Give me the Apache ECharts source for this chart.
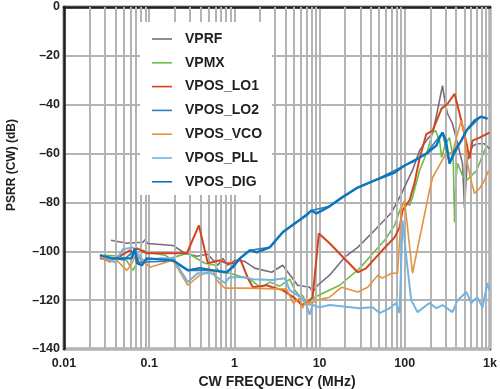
<!DOCTYPE html>
<html><head><meta charset="utf-8">
<script src="https://cdn.jsdelivr.net/npm/echarts@6/dist/echarts.min.js"></script>
<style>html,body{margin:0;padding:0;background:#fff}#c{width:500px;height:389px}</style>
</head><body><div id="c"></div>
<script>
const seriesNames = ['VPRF','VPMX','VPOS_LO1','VPOS_LO2','VPOS_VCO','VPOS_PLL','VPOS_DIG'];
const xTickLabels = ['0.01','0.1','1','10','100','1k'];
const minorGridFreqs = [0.02,0.03,0.04,0.05,0.06,0.07,0.08,0.09,0.2,0.3,0.4,0.5,0.6,0.7,0.8,0.9,2,3,4,5,6,7,8,9,20,30,40,50,60,70,80,90,200,300,400,500,600,700,800,900];

const vprf = [[0.0356,-95.5],[0.0548,-96.7],[0.0843,-96.3],[0.0891,-95.3],[0.0966,-96.8],[0.19,-97.6],[0.262,-100.8],[0.362,-102],[0.488,-101.2],[0.639,-105.7],[0.731,-102.9],[0.837,-105.7],[1.01,-103.7],[1.32,-104.1],[1.73,-106.9],[2.74,-108.6],[3.69,-105.7],[5.53,-113.9],[7.65,-114.7],[8.29,-116.7],[9.5,-113.9],[13.1,-109.8],[19.7,-102.4],[28,-98.4],[44.3,-91.4],[70,-84.1],[91.8,-76.3],[108,-71],[123,-66.9],[149,-58.8],[185,-54],[212,-51.8],[243,-42],[277,-32.2],[300,-40],[318,-43.7],[363,-47.8],[416,-55.9],[476,-64.1],[502,-82.4],[540,-63],[620,-57],[700,-56],[860,-56],[986,-58]];
const vpmx = [[0.0303,-101.6],[0.0454,-102],[0.0548,-104],[0.0644,-107.8],[0.0778,-102.4],[0.0843,-99.6],[0.0966,-100.4],[0.153,-101.6],[0.175,-102.9],[0.284,-100.8],[0.45,-104.9],[0.589,-105.7],[0.674,-108.6],[0.883,-109],[1.16,-110.2],[1.52,-111.4],[1.99,-114.7],[2.27,-113.9],[2.6,-112.6],[3.41,-114.3],[4.46,-111.4],[5.11,-115.9],[5.84,-118.4],[6.3,-118],[7.25,-122],[8.76,-118.8],[17.2,-113.9],[29.5,-107],[44.3,-100],[58,-95.5],[75.9,-89.4],[91.8,-81.2],[108,-80.4],[114,-81.2],[123,-78],[149,-66.9],[185,-58.8],[212,-51.4],[230,-50.6],[256,-54.7],[270,-61.6],[300,-56],[335,-53.5],[370,-62],[384,-88.2],[400,-70],[416,-64],[476,-69],[530,-71],[695,-67],[861,-58.8],[935,-56.7]];
const lo1 = [[0.0264,-102.9],[0.0356,-103.7],[0.04,-103],[0.0594,-99.6],[0.0679,-100.8],[0.0718,-98.8],[0.094,-100.8],[0.277,-100.8],[0.383,-89.4],[0.488,-104.9],[0.674,-103.7],[0.81,-104.9],[1.01,-104.9],[1.16,-102.9],[1.44,-111],[1.65,-114.7],[2.4,-113.9],[2.8,-114.7],[3.69,-115.9],[5.11,-119.2],[6.2,-122],[7.65,-120],[8.29,-118.8],[9.8,-92.7],[13.1,-96.7],[28,-108.6],[35,-107],[54.5,-99.6],[75.9,-94.3],[86.9,-90.2],[94,-83.3],[114,-79],[130,-72],[149,-62],[179,-52],[212,-50.6],[270,-41.6],[318,-39.6],[384,-35.5],[460,-46.5],[530,-55.9],[575,-62],[623,-54.7],[753,-53.5],[986,-51.4]];
const lo2 = [[0.0264,-102],[0.05,-103.5],[0.0679,-99.5],[0.075,-104.5],[0.19,-104],[0.284,-107.8],[0.56,-107.8],[0.81,-108.6],[1.16,-102.9],[1.52,-99.6],[2.6,-98.4],[3.69,-92.2],[5.3,-88.2],[8.0,-83.3],[13.1,-81.6],[28,-73.9],[44.3,-71],[99.5,-64.9],[179,-60],[277,-51.4],[335,-64.1],[530,-50.6],[780,-44.9],[935,-45.7]];
const vco = [[0.0264,-102.4],[0.0346,-104.5],[0.0396,-103],[0.0548,-107.8],[0.0626,-104.9],[0.07,-101.5],[0.102,-106.5],[0.19,-103.7],[0.284,-113.9],[0.393,-109.8],[0.56,-107.8],[0.62,-111.8],[0.77,-115.1],[1.32,-115.1],[4.1,-115.5],[4.9,-121.2],[5.84,-119.2],[6.3,-123.3],[7.0,-120],[7.65,-122],[9.2,-120],[13.1,-118.8],[18.2,-114.7],[28,-116.7],[36.7,-114.7],[48.3,-109.8],[54.5,-111],[70,-109],[82.4,-109],[91.8,-82],[99.5,-79.2],[123,-109],[195,-75],[212,-69.8],[304,-60],[363,-59.6],[416,-51.8],[460,-46.5],[502,-51.8],[545,-64],[600,-71],[658,-76.3],[753,-74.3],[861,-71],[960,-67]];
const pll = [[0.0264,-101.6],[0.0396,-104.5],[0.049,-99.2],[0.0644,-98.4],[0.0843,-103.7],[0.133,-102.9],[0.19,-102.9],[0.284,-112.6],[0.37,-109],[0.54,-109],[0.77,-113],[0.883,-110.6],[1.32,-110.6],[1.65,-111.4],[2.8,-111.8],[3.9,-111],[4.46,-115.9],[6.2,-119.2],[7.0,-122],[7.65,-126],[8.29,-122],[10,-122.9],[13.1,-122],[29.5,-123.3],[41.8,-122.9],[50.7,-125.3],[66.4,-123.3],[79,-121.2],[86.9,-125.3],[94,-87.3],[104,-102.4],[119,-120],[141,-124.9],[195,-121.2],[235,-123.3],[277,-122],[363,-124.9],[416,-120],[530,-116.7],[600,-121.2],[710,-118.8],[817,-122.9],[935,-113],[986,-115.9]];
const dig = [[0.0264,-101.6],[0.0375,-102.9],[0.0626,-102.9],[0.0679,-98.8],[0.0718,-104.9],[0.082,-105.7],[0.094,-102.9],[0.19,-103.7],[0.284,-107.8],[0.393,-106.9],[0.56,-107.8],[0.81,-108.6],[0.96,-106.5],[1.16,-102.9],[1.52,-99.6],[1.83,-100.4],[2.6,-98.4],[3.69,-92.2],[5.3,-88.2],[7.0,-85.3],[8.0,-83.3],[9.2,-84.5],[13.1,-81.6],[18.2,-78],[28,-73.9],[44.3,-71],[75.9,-67.8],[99.5,-64.9],[130,-62.9],[179,-60],[235,-56.7],[256,-53.5],[277,-51.4],[304,-54.7],[335,-64.1],[384,-58.8],[460,-54.7],[530,-50.6],[658,-46.5],[780,-44.9],[935,-45.7]];

const colors = ['#7b6a80','#6cbd45','#d6431c','#2f7dbd','#e8923f','#74b3e2','#0b76bc'];
const widths = [1.6,1.6,2,1.6,1.6,2,2.4];
const datasets = [vprf,vpmx,lo1,lo2,vco,pll,dig];
const font = 'Arial, "Liberation Sans", sans-serif';
const txt = '#231f20';
const gridColor = '#b4b4b4';

const chart = echarts.init(document.getElementById('c'), null, {renderer:'canvas'});
const series = [{
  type:'line', name:'_grid', data:[], z:1, silent:true,
  markLine:{silent:true, symbol:['none','none'], label:{show:false}, animation:false,
    lineStyle:{color:gridColor, width:2, type:'solid'},
    emphasis:{disabled:true},
    data: minorGridFreqs.map(f=>({xAxis:f}))}
}];
seriesNames.forEach((n,i)=>{
  series.push({type:'line', name:n, data:datasets[i], symbol:'none', showSymbol:false, z:3+i,
    lineStyle:{color:colors[i], width:widths[i]}, itemStyle:{color:colors[i]},
    emphasis:{disabled:true}, animation:false});
});
chart.setOption({
  animation:false,
  backgroundColor:'#fff',
  graphic:[{type:'rect', left:140, top:22, shape:{width:132, height:173}, style:{fill:'#fff'}, z:50, silent:true}],
  grid:{left:64, right:10, top:7, bottom:40, show:true, borderColor:'#231f20', borderWidth:2.5, containLabel:false, outerBoundsMode:'none'},
  legend:{data:seriesNames, orient:'vertical', left:140, top:22, padding:[10,10,10,12], z:60,
    icon:'path://M0,0 L0,0 M0,5.2 L20,5.2 L20,6.8 L0,6.8 Z M20,12 L20,12',
    itemGap:9.8, itemWidth:20, itemHeight:12,
    textStyle:{fontFamily:font, fontWeight:'bold', fontSize:14, color:txt, padding:[0,0,0,8]}},
  xAxis:{type:'log', logBase:10, min:0.01, max:1000,
    name:'CW FREQUENCY (MHz)', nameLocation:'middle', nameGap:26,
    nameTextStyle:{fontFamily:font, fontWeight:'bold', fontSize:14, color:txt},
    axisLine:{show:true, lineStyle:{color:'#231f20', width:2.5}},
    axisTick:{show:false},
    axisLabel:{margin:8, fontFamily:font, fontWeight:'bold', fontSize:12.5, color:txt,
      formatter:v=>xTickLabels[Math.round(Math.log10(v))+2]},
    splitLine:{show:true, lineStyle:{color:gridColor, width:2}},
    minorTick:{show:false}, minorSplitLine:{show:false}},
  yAxis:{type:'value', min:-140, max:0, interval:20,
    name:'PSRR (CW) (dB)', nameLocation:'middle', nameGap:46, nameRotate:90,
    nameTextStyle:{fontFamily:font, fontWeight:'bold', fontSize:12, color:txt, padding:[0,0,0,26]},
    axisLine:{show:true, lineStyle:{color:'#231f20', width:2.5}},
    axisTick:{show:false},
    axisLabel:{margin:4, fontFamily:font, fontWeight:'bold', fontSize:12.5, color:txt,
      formatter:v=>v<0?'\u2013'+(-v):String(v)},
    splitLine:{show:true, lineStyle:{color:gridColor, width:2}}},
  series
});
</script></body></html>
